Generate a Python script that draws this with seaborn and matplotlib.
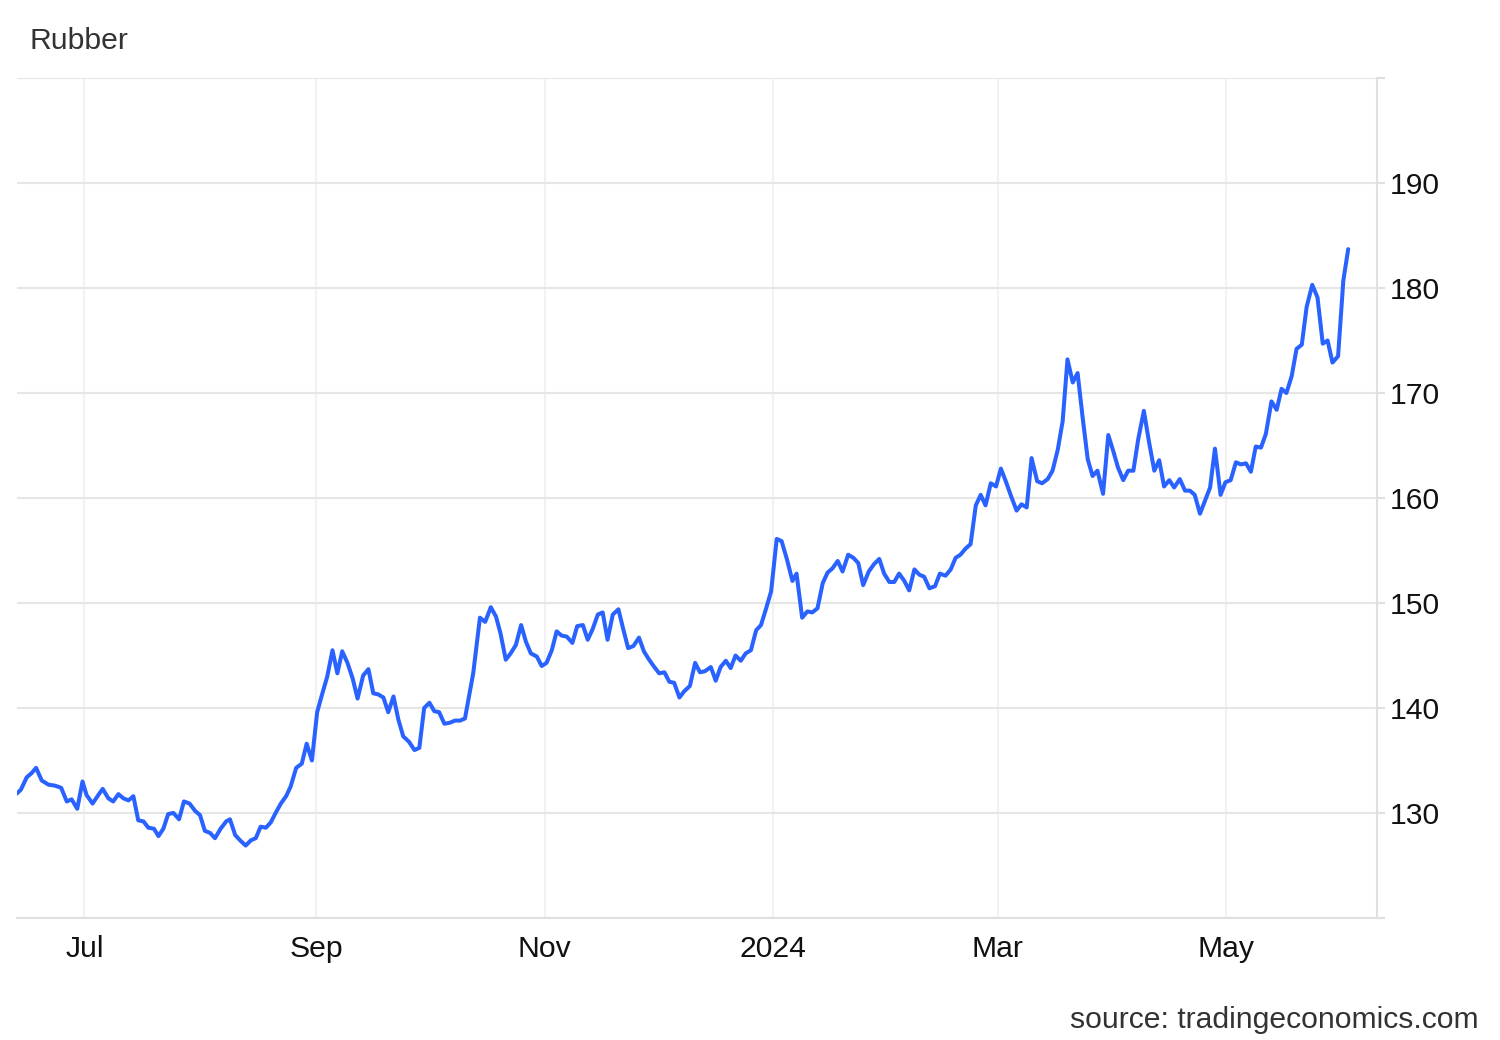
import numpy as np
import pandas as pd
import matplotlib
matplotlib.use("Agg")
import matplotlib.pyplot as plt
import seaborn as sns

# ---------------- data ----------------
start_date = "2023-06-12"
# observation time, in days since start_date
day_offset = [
    0.75, 2.0, 3.6, 4.9, 6.1, 7.6, 9.4, 11.2, 12.8, 14.3, 15.6, 17.1, 18.5, 19.6, 21.2,
    22.7, 23.9, 25.4, 26.7, 28.1, 29.4, 30.8, 32.1, 33.4, 34.8, 36.1, 37.6, 38.8, 40.1,
    41.4, 42.8, 44.3, 45.6, 47.1, 48.6, 49.9, 51.2, 52.6, 53.9, 55.4, 56.9, 57.9, 59.3,
    60.6, 62.1, 63.5, 64.8, 66.1, 67.5, 68.8, 70.1, 71.5, 72.9, 74.1, 75.6, 77.1, 78.4,
    79.8, 81.2, 82.6, 83.9, 85.3, 86.6, 87.9, 89.3, 90.7, 92.0, 93.5, 94.9, 96.2, 97.5,
    98.9, 100.2, 101.6, 102.9, 104.2, 105.7, 107.2, 108.5, 109.8, 111.2, 112.5, 113.8,
    115.2, 116.7, 118.0, 119.4, 120.7, 122.9, 124.7, 126.1, 127.6, 129.0, 130.2, 131.6,
    132.9, 134.3, 135.7, 137.0, 138.3, 139.9, 141.2, 142.5, 143.9, 145.2, 146.5, 147.9,
    149.4, 150.7, 152.2, 153.5, 154.8, 156.2, 157.5, 158.8, 160.2, 161.7, 163.0, 164.3,
    165.7, 167.2, 168.5, 169.9, 171.3, 172.6, 174.0, 175.3, 176.6, 178.0, 179.3, 180.8,
    182.2, 183.5, 184.8, 186.4, 187.7, 189.0, 190.4, 191.7, 193.0, 194.4, 195.7, 197.1,
    198.5, 199.8, 201.1, 202.5, 204.0, 205.3, 206.7, 208.2, 209.3, 210.8, 212.2, 213.5,
    214.9, 216.3, 217.6, 218.9, 220.3, 221.6, 223.1, 224.5, 225.8, 227.1, 228.6, 230.0,
    231.4, 232.7, 234.1, 235.4, 236.7, 238.1, 239.4, 240.8, 242.1, 243.4, 244.8, 246.3,
    247.6, 249.1, 250.5, 251.8, 253.1, 254.5, 255.8, 257.2, 258.5, 259.8, 261.2, 262.6,
    263.9, 265.2, 266.6, 268.1, 269.4, 270.8, 272.1, 273.6, 274.9, 276.4, 277.7, 279.1,
    280.4, 281.7, 283.1, 284.4, 285.7, 287.1, 288.4, 289.7, 291.2, 292.6, 293.9, 295.2,
    296.6, 297.9, 299.3, 300.6, 302.1, 303.5, 304.9, 306.2, 307.5, 308.9, 310.2, 311.7,
    313.1, 314.4, 315.7, 317.1, 318.4, 319.8, 321.1, 322.6, 323.9, 325.3, 326.7, 328.0,
    329.4, 330.7, 332.0, 333.4, 334.7, 336.2, 337.6, 338.9, 340.2, 341.6, 342.9, 344.3,
    345.6, 347.1, 348.5, 349.9, 351.2, 352.5, 354.0, 355.4, 356.7,
]
price = [
    131.8, 132.2, 133.4, 133.8, 134.3, 133.1, 132.7, 132.6, 132.4, 131.1, 131.3, 130.4,
    133.0, 131.7, 130.9, 131.7, 132.3, 131.4, 131.1, 131.8, 131.4, 131.2, 131.6, 129.3,
    129.2, 128.6, 128.5, 127.8, 128.5, 129.9, 130.0, 129.4, 131.1, 130.9, 130.2, 129.8,
    128.3, 128.1, 127.6, 128.5, 129.2, 129.4, 127.9, 127.4, 126.9, 127.4, 127.6, 128.7,
    128.6, 129.1, 130.0, 130.9, 131.6, 132.5, 134.3, 134.7, 136.6, 135.0, 139.6, 141.4,
    143.0, 145.5, 143.3, 145.4, 144.3, 142.8, 140.9, 143.1, 143.7, 141.4, 141.3, 141.0,
    139.6, 141.1, 138.9, 137.3, 136.8, 136.0, 136.2, 140.0, 140.5, 139.7, 139.6, 138.5,
    138.6, 138.8, 138.8, 139.0, 143.3, 148.6, 148.2, 149.6, 148.7, 147.1, 144.6, 145.2,
    146.0, 147.9, 146.3, 145.2, 144.9, 144.0, 144.3, 145.5, 147.3, 146.9, 146.8, 146.2,
    147.8, 147.9, 146.5, 147.5, 148.9, 149.1, 146.5, 148.9, 149.4, 147.5, 145.7, 145.9,
    146.7, 145.4, 144.6, 143.9, 143.3, 143.4, 142.5, 142.4, 141.0, 141.6, 142.1, 144.3,
    143.4, 143.5, 143.9, 142.6, 143.9, 144.5, 143.8, 145.0, 144.5, 145.2, 145.5, 147.4,
    147.9, 149.4, 151.1, 156.1, 155.9, 154.2, 152.1, 152.8, 148.6, 149.2, 149.1, 149.5,
    151.9, 152.9, 153.3, 154.0, 153.0, 154.6, 154.3, 153.8, 151.7, 153.0, 153.7, 154.2,
    152.8, 152.0, 152.0, 152.8, 152.1, 151.2, 153.2, 152.7, 152.5, 151.4, 151.6, 152.8,
    152.6, 153.2, 154.3, 154.6, 155.2, 155.6, 159.3, 160.3, 159.3, 161.4, 161.1, 162.8,
    161.6, 160.2, 158.8, 159.4, 159.1, 163.8, 161.6, 161.4, 161.8, 162.6, 164.6, 167.3,
    173.2, 171.0, 171.9, 167.8, 163.7, 162.1, 162.6, 160.4, 166.0, 164.5, 162.9, 161.7,
    162.6, 162.6, 165.6, 168.3, 165.3, 162.6, 163.6, 161.1, 161.7, 161.0, 161.8, 160.7,
    160.7, 160.3, 158.5, 159.7, 161.0, 164.7, 160.3, 161.5, 161.7, 163.4, 163.2, 163.3,
    162.5, 164.9, 164.8, 166.1, 169.2, 168.4, 170.4, 170.0, 171.6, 174.2, 174.6, 178.2,
    180.3, 179.1, 174.7, 175.0, 172.9, 173.5, 180.7, 183.7,
]
tick_dates = ["2023-07-01", "2023-09-01", "2023-11-01", "2024-01-01", "2024-03-01", "2024-05-01"]
tick_labels = ["Jul", "Sep", "Nov", "2024", "Mar", "May"]
y_ticks = [120, 130, 140, 150, 160, 170, 180, 190, 200]
y_tick_labels = ["", "130", "140", "150", "160", "170", "180", "190", ""]
title = "Rubber"
source = "source: tradingeconomics.com"

# ---------------- plot ----------------
sns.set_theme(style="white")
plt.rcParams["font.family"] = ["Liberation Sans", "DejaVu Sans"]

base = pd.Timestamp(start_date)
df = pd.DataFrame({
    "date": base + pd.to_timedelta(day_offset, unit="D"),
    "price": price,
})

fig = plt.figure(figsize=(15, 10.4), dpi=100)
ax = fig.add_axes([17 / 1500, 1 - 918 / 1040, 1360 / 1500, 840 / 1040])
ax.set_axisbelow(True)

sns.lineplot(data=df, x="date", y="price", ax=ax, color="#2962ff", linewidth=2.9)

ax.set_xlim(base + pd.Timedelta(days=1.0), base + pd.Timedelta(days=364.4))
ax.set_ylim(120, 200)

ax.yaxis.tick_right()
ax.set_yticks(y_ticks)
ax.set_yticklabels(y_tick_labels)
ax.set_xticks(pd.to_datetime(tick_dates))
ax.set_xticklabels(tick_labels)

ax.grid(axis="y", color="#e6e6e6", linewidth=1.5)
ax.grid(axis="x", color="#f2f2f2", linewidth=1.5)
for s in ["top", "left"]:
    ax.spines[s].set_visible(False)
for s in ["right", "bottom"]:
    ax.spines[s].set_color("#e0e0e0")
    ax.spines[s].set_linewidth(1.5)

ax.tick_params(axis="y", right=True, left=False, length=6, width=1.5, color="#e0e0e0",
               pad=3, labelsize=21.7, labelcolor="#111111")
ax.tick_params(axis="x", bottom=False, length=0, pad=12, labelsize=21.7, labelcolor="#111111")
ax.set_xlabel("")
ax.set_ylabel("")

fig.text(29 / 1500, 1 - 41 / 1040, title, fontsize=21.7, color="#333333", ha="left", va="center")
fig.text(1479 / 1500, 1 - 1020 / 1040, source, fontsize=21.7, color="#333333",
         ha="right", va="center")

fig.savefig("out.png", dpi=100)
